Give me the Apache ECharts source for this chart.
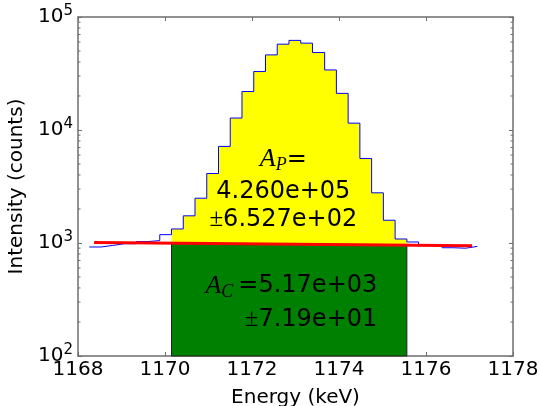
<!DOCTYPE html>
<html><head><meta charset="utf-8">
<script src="https://cdn.jsdelivr.net/npm/echarts@6/dist/echarts.min.js"></script>
<style>html,body{margin:0;padding:0;background:#fff}#c{width:539px;height:406px}</style>
</head><body><div id="c"></div>
<script>
// ---- data ----
const binEdges = [1168.26,1168.53,1168.80,1169.07,1169.34,1169.61,1169.88,1170.15,1170.42,1170.69,
  1170.96,1171.23,1171.50,1171.77,1172.04,1172.31,1172.58,1172.85,1173.12,1173.39,1173.67,1173.94,
  1174.21,1174.48,1174.75,1175.02,1175.29,1175.56,1175.83,1176.10,1176.37,1176.64,1176.91,1177.18];
const counts = [922,952,986,986,1030,1050,1185,1331,1740,2490,4120,7160,12760,21900,32900,46200,
  57500,62100,58700,48500,34000,21100,11500,5600,2780,1590,1085,1021,966,956,908,899,933];
const regionEdgeIdx = [7, 27];            // integration region (bin edge indices)
const bgX = [1168.37, 1177.06];           // linear background line end points
const bgY = [1008, 946];
const xRange = [1168, 1178];
const yRange = [100, 100000];
const peakLabel = ['A', 'P', '4.260e+05', '6.527e+02'];
const contLabel = ['A', 'C', '5.17e+03', '7.19e+01'];
// annotation anchors (data coords)
const peakAnchor = {x: 1172.72, y: [5497, 2851, 1604]};
const contAnchor = {x: 1174.88, y: [415, 210]};

const axisColor = '#6e6e6e';
const FONT = 'DejaVu Sans';
const SERIF = 'Liberation Serif';

function bgPx(api) {
  const p0 = api.coord([bgX[0], bgY[0]]), p1 = api.coord([bgX[1], bgY[1]]);
  return px => p0[1] + (p1[1] - p0[1]) * (px - p0[0]) / (p1[0] - p0[0]);
}

const chart = echarts.init(document.getElementById('c'));
const xBase = {
  type: 'value', min: xRange[0], max: xRange[1], interval: 2,
  axisLine: {show: true, onZero: false, lineStyle: {color: axisColor, width: 1.5}},
  axisTick: {show: true, inside: true, length: 4, lineStyle: {color: axisColor}},
  splitLine: {show: false}
};
const yBase = {
  type: 'log', logBase: 10, min: yRange[0], max: yRange[1],
  axisLine: {show: true, onZero: false, lineStyle: {color: axisColor, width: 1.5}},
  axisTick: {show: true, inside: true, length: 4, lineStyle: {color: axisColor}},
  splitLine: {show: false}
};
const option = {
  animation: false,
  grid: {left: 78, right: 26, top: 17, bottom: 50, containLabel: false, outerBoundsMode: 'none'},
  xAxis: [
    Object.assign({}, xBase, {
      position: 'bottom', name: 'Energy (keV)', nameLocation: 'middle', nameGap: 32,
      nameTextStyle: {fontSize: 20, color: '#000', fontFamily: FONT},
      axisLabel: {fontSize: 20, color: '#000', fontFamily: FONT, margin: 4, showMinLabel: true, showMaxLabel: true,
        formatter: v => String(v)}
    }),
    Object.assign({}, xBase, {position: 'top', axisLabel: {show: false}})
  ],
  yAxis: [
    Object.assign({}, yBase, {
      position: 'left', name: 'Intensity (counts)', nameLocation: 'middle', nameGap: 46, nameRotate: 90,
      nameTextStyle: {fontSize: 20, color: '#000', fontFamily: FONT},
      axisLabel: {
        margin: 5, color: '#000',
        formatter: v => '{b|10}{s|' + Math.round(Math.log10(v)) + '}',
        rich: {
          b: {fontSize: 20, fontFamily: FONT, color: '#000'},
          s: {fontSize: 15, fontFamily: FONT, color: '#000', padding: [0, 0, 12, 0]}
        }
      }
    }),
    Object.assign({}, yBase, {position: 'right', axisLabel: {show: false}})
  ],
  series: [
    { // continuum (green)
      type: 'custom', z: 1, data: [[binEdges[regionEdgeIdx[0]], 1000]],
      renderItem: (params, api) => {
        const f = bgPx(api);
        const L = api.coord([binEdges[regionEdgeIdx[0]], yRange[0]]);
        const R = api.coord([binEdges[regionEdgeIdx[1]], yRange[0]]);
        return {type: 'polygon', shape: {points: [[L[0], L[1]], [L[0], f(L[0])], [R[0], f(R[0])], [R[0], R[1]]]},
          style: {fill: '#008000', stroke: '#222', lineWidth: 1}};
      }
    },
    { // peak (yellow)
      type: 'custom', z: 2, data: [[binEdges[regionEdgeIdx[0]], 1000]],
      renderItem: (params, api) => {
        const f = bgPx(api);
        const pts = [];
        for (let i = regionEdgeIdx[0]; i < regionEdgeIdx[1]; i++) {
          pts.push(api.coord([binEdges[i], counts[i]]));
          pts.push(api.coord([binEdges[i + 1], counts[i]]));
        }
        const R = api.coord([binEdges[regionEdgeIdx[1]], 1000])[0];
        const L = api.coord([binEdges[regionEdgeIdx[0]], 1000])[0];
        pts.push([R, f(R)]);
        pts.push([L, f(L)]);
        return {type: 'polygon', shape: {points: pts}, style: {fill: '#ffff00'}};
      }
    },
    { // histogram
      type: 'line', z: 3, step: 'end', symbol: 'none',
      data: binEdges.map((e, i) => [e, counts[Math.min(i, counts.length - 1)]]),
      lineStyle: {color: '#0000ff', width: 1}
    },
    { // background line
      type: 'line', z: 4, symbol: 'none',
      data: [[bgX[0], bgY[0]], [bgX[1], bgY[1]]],
      lineStyle: {color: '#ff0000', width: 3}
    },
    { // minor log ticks on both sides
      type: 'custom', z: 5, data: [[xRange[0], 1000]], silent: true,
      renderItem: (params, api) => {
        const ch = [];
        for (let k = 2; k < 5; k++) for (let m = 2; m <= 9; m++) {
          const v = m * Math.pow(10, k);
          const l = api.coord([xRange[0], v]), r = api.coord([xRange[1], v]);
          ch.push({type: 'line', shape: {x1: l[0], y1: l[1], x2: l[0] + 2.5, y2: l[1]}, style: {stroke: axisColor, lineWidth: 1}});
          ch.push({type: 'line', shape: {x1: r[0], y1: r[1], x2: r[0] - 2.5, y2: r[1]}, style: {stroke: axisColor, lineWidth: 1}});
        }
        return {type: 'group', children: ch};
      }
    },
    { // annotations
      type: 'custom', z: 6, data: [[peakAnchor.x, 1000]], silent: true,
      renderItem: (params, api) => {
        const rich = {
          i: {fontFamily: SERIF, fontStyle: 'italic', fontSize: 26, fill: '#000'},
          s: {fontFamily: SERIF, fontStyle: 'italic', fontSize: 18, fill: '#000', padding: [12, 0, 0, 0]},
          sc: {fontFamily: SERIF, fontStyle: 'italic', fontSize: 18, fill: '#000', padding: [12, 5, 0, 0]},
          n: {fontFamily: FONT, fontSize: 24, fill: '#000'},
          pm: {fontFamily: SERIF, fontSize: 25, fill: '#000'}
        };
        const mk = (x, y, text, align) => {
          const p = api.coord([x, y]);
          return {type: 'text', x: p[0], y: p[1], style: {text, rich, align, verticalAlign: 'middle', fill: '#000'}};
        };
        return {type: 'group', children: [
          mk(peakAnchor.x, peakAnchor.y[0], '{i|' + peakLabel[0] + '}{s|' + peakLabel[1] + '}{n|=}', 'center'),
          mk(peakAnchor.x, peakAnchor.y[1], '{n|' + peakLabel[2] + '}', 'center'),
          mk(peakAnchor.x, peakAnchor.y[2], '{pm|±}{n|' + peakLabel[3] + '}', 'center'),
          mk(contAnchor.x, contAnchor.y[0], '{i|' + contLabel[0] + '}{sc|' + contLabel[1] + '}{n|=' + contLabel[2] + '}', 'right'),
          mk(contAnchor.x, contAnchor.y[1], '{pm|±}{n|' + contLabel[3] + '}', 'right')
        ]};
      }
    }
  ]
};
chart.setOption(option);
</script>
</body></html>
